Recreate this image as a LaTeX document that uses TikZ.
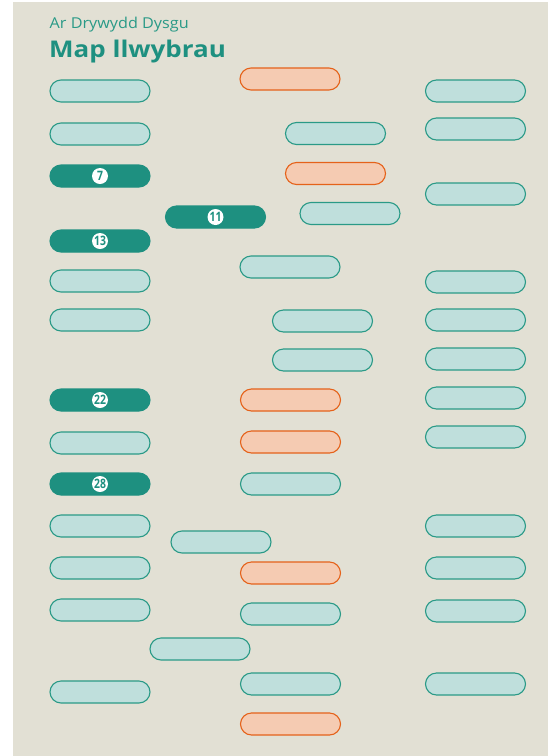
\documentclass[tikz,border=0pt]{standalone}
\usepackage{fontspec}
\setmainfont{Open Sans}
\newfontfamily\titlefont[FakeStretch=1.13]{Open Sans}
\newfontfamily\subfont[FakeStretch=1.08]{Open Sans}
\newfontfamily\numfont[FakeStretch=0.8]{Open Sans}
\definecolor{bg}{HTML}{E2E0D4}
\definecolor{tealline}{HTML}{2A9A87}
\definecolor{tealfill}{HTML}{BFDFDC}
\definecolor{tealdark}{HTML}{1E9080}
\definecolor{orline}{HTML}{E5621A}
\definecolor{orfill}{HTML}{F5CBB2}
\tikzset{
  pill/.style={rounded corners=11pt, minimum width=100pt, minimum height=22pt, inner sep=0pt, line width=1.1pt},
  lightpill/.style={pill, draw=tealline, fill=tealfill},
  orpill/.style={pill, draw=orline, fill=orfill},
  darkpill/.style={pill, fill=tealdark, draw=tealdark},
  numdot/.style={circle, fill=white, minimum size=16pt, inner sep=0pt, text=tealdark, font=\numfont\bfseries\fontsize{13}{13}\selectfont}
}
\begin{document}
\begin{tikzpicture}[x=1pt,y=-1pt]
\useasboundingbox (0,0) rectangle (548,756);
\fill[bg] (13,2) rectangle (548,756);
\node[anchor=base west, inner sep=0pt, text=tealline, font=\subfont\fontsize{15}{15}\selectfont] (sub) at (49.5,28) {Ar Drywydd Dysgu};
\node[anchor=base west, inner sep=0pt, text=tealdark, font=\titlefont\bfseries\fontsize{23}{23}\selectfont] (title) at (49,57) {Map llwybrau};
% left column
\node[lightpill] (l1) at (100,91) {};
\node[lightpill] (l2) at (100,134) {};
\node[darkpill] (l3) at (100,176) {\tikz\node[numdot]{7};};
\node[darkpill] (l4) at (100,241) {\tikz\node[numdot]{13};};
\node[lightpill] (l5) at (100,281) {};
\node[lightpill] (l6) at (100,320) {};
\node[darkpill] (l7) at (100,400) {\tikz\node[numdot]{22};};
\node[lightpill] (l8) at (100,443) {};
\node[darkpill] (l9) at (100,484) {\tikz\node[numdot]{28};};
\node[lightpill] (l10) at (100,526) {};
\node[lightpill] (l11) at (100,568) {};
\node[lightpill] (l12) at (100,610) {};
\node[lightpill] (l13) at (100,692) {};
% middle
\node[orpill] (m1) at (290,79) {};
\node[lightpill] (m2) at (335.5,133.5) {};
\node[orpill] (m3) at (335.5,173.5) {};
\node[darkpill] (m4) at (215.5,217) {\tikz\node[numdot]{11};};
\node[lightpill] (m5) at (350,213.5) {};
\node[lightpill] (m6) at (290,267) {};
\node[lightpill] (m7) at (322.5,321) {};
\node[lightpill] (m8) at (322.5,360) {};
\node[orpill] (m9) at (290.5,400) {};
\node[orpill] (m10) at (290.5,442) {};
\node[lightpill] (m11) at (290.5,484) {};
\node[lightpill] (m12) at (221,542) {};
\node[orpill] (m13) at (290.5,573) {};
\node[lightpill] (m14) at (290.5,614) {};
\node[lightpill] (m15) at (200,649) {};
\node[lightpill] (m16) at (290.5,684) {};
\node[orpill] (m17) at (290.5,724) {};
% right column
\node[lightpill] (r1) at (475.5,91) {};
\node[lightpill] (r2) at (475.5,129) {};
\node[lightpill] (r3) at (475.5,194) {};
\node[lightpill] (r4) at (475.5,282) {};
\node[lightpill] (r5) at (475.5,320) {};
\node[lightpill] (r6) at (475.5,359) {};
\node[lightpill] (r7) at (475.5,398) {};
\node[lightpill] (r8) at (475.5,437) {};
\node[lightpill] (r9) at (475.5,526) {};
\node[lightpill] (r10) at (475.5,568) {};
\node[lightpill] (r11) at (475.5,611) {};
\node[lightpill] (r12) at (475.5,684) {};
\end{tikzpicture}
\end{document}
